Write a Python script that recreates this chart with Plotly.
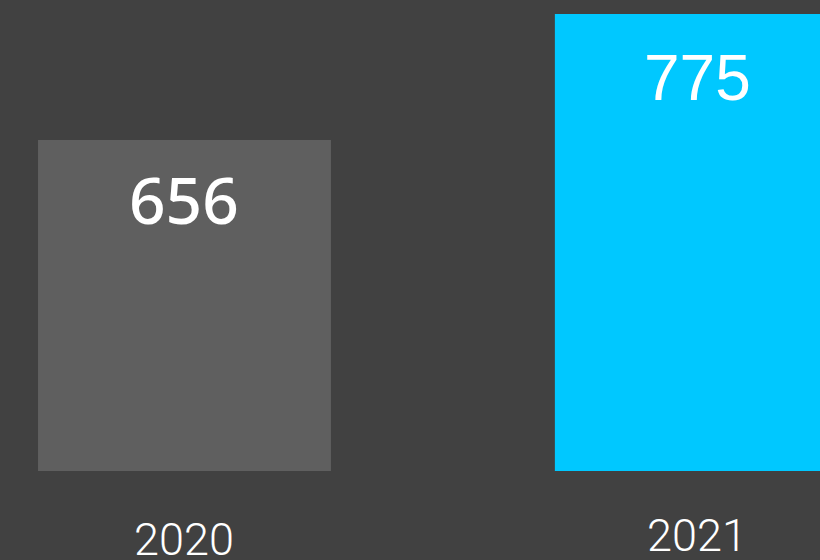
import plotly.graph_objects as go

years = ["2020", "2021"]
values = [656, 775]

bar_colors = ["#5f5f5f", "#00c8ff"]
bar_widths = [0.571, 0.556]
value_fonts = ["Noto Sans", "Liberation Sans"]
value_weights = [500, 400]
value_shift = [-60, -64]
label_shift = [0, 4]

fig = go.Figure()
fig.add_trace(go.Bar(
    x=list(range(len(years))),
    y=values,
    width=bar_widths,
    marker=dict(color=bar_colors, line=dict(width=0)),
    hoverinfo="skip",
))

for i, (yr, v) in enumerate(zip(years, values)):
    fig.add_annotation(
        x=i, y=v, xref="x", yref="y", text=str(v), showarrow=False,
        yanchor="middle", yshift=value_shift[i],
        font=dict(family=value_fonts[i], size=64, color="white", weight=value_weights[i]),
    )
    fig.add_annotation(
        x=i, y=(471 - 539) / 471 + label_shift[i] / 471, xref="x", yref="paper",
        text=yr, showarrow=False, yanchor="middle",
        font=dict(family="Roboto", size=45, color="white", weight=300),
    )

fig.update_layout(
    width=820, height=560,
    margin=dict(l=0, r=0, t=0, b=89, pad=0),
    paper_bgcolor="#414141", plot_bgcolor="#414141",
    showlegend=False,
    xaxis=dict(range=[-0.3596, 1.2388], visible=False, fixedrange=True),
    yaxis=dict(range=[343.4, 788.2], visible=False, fixedrange=True),
)

fig.write_html(
    "out.html",
    config={"displayModeBar": False},
    post_script="document.body.style.margin='0';document.body.style.overflow='hidden';",
)
